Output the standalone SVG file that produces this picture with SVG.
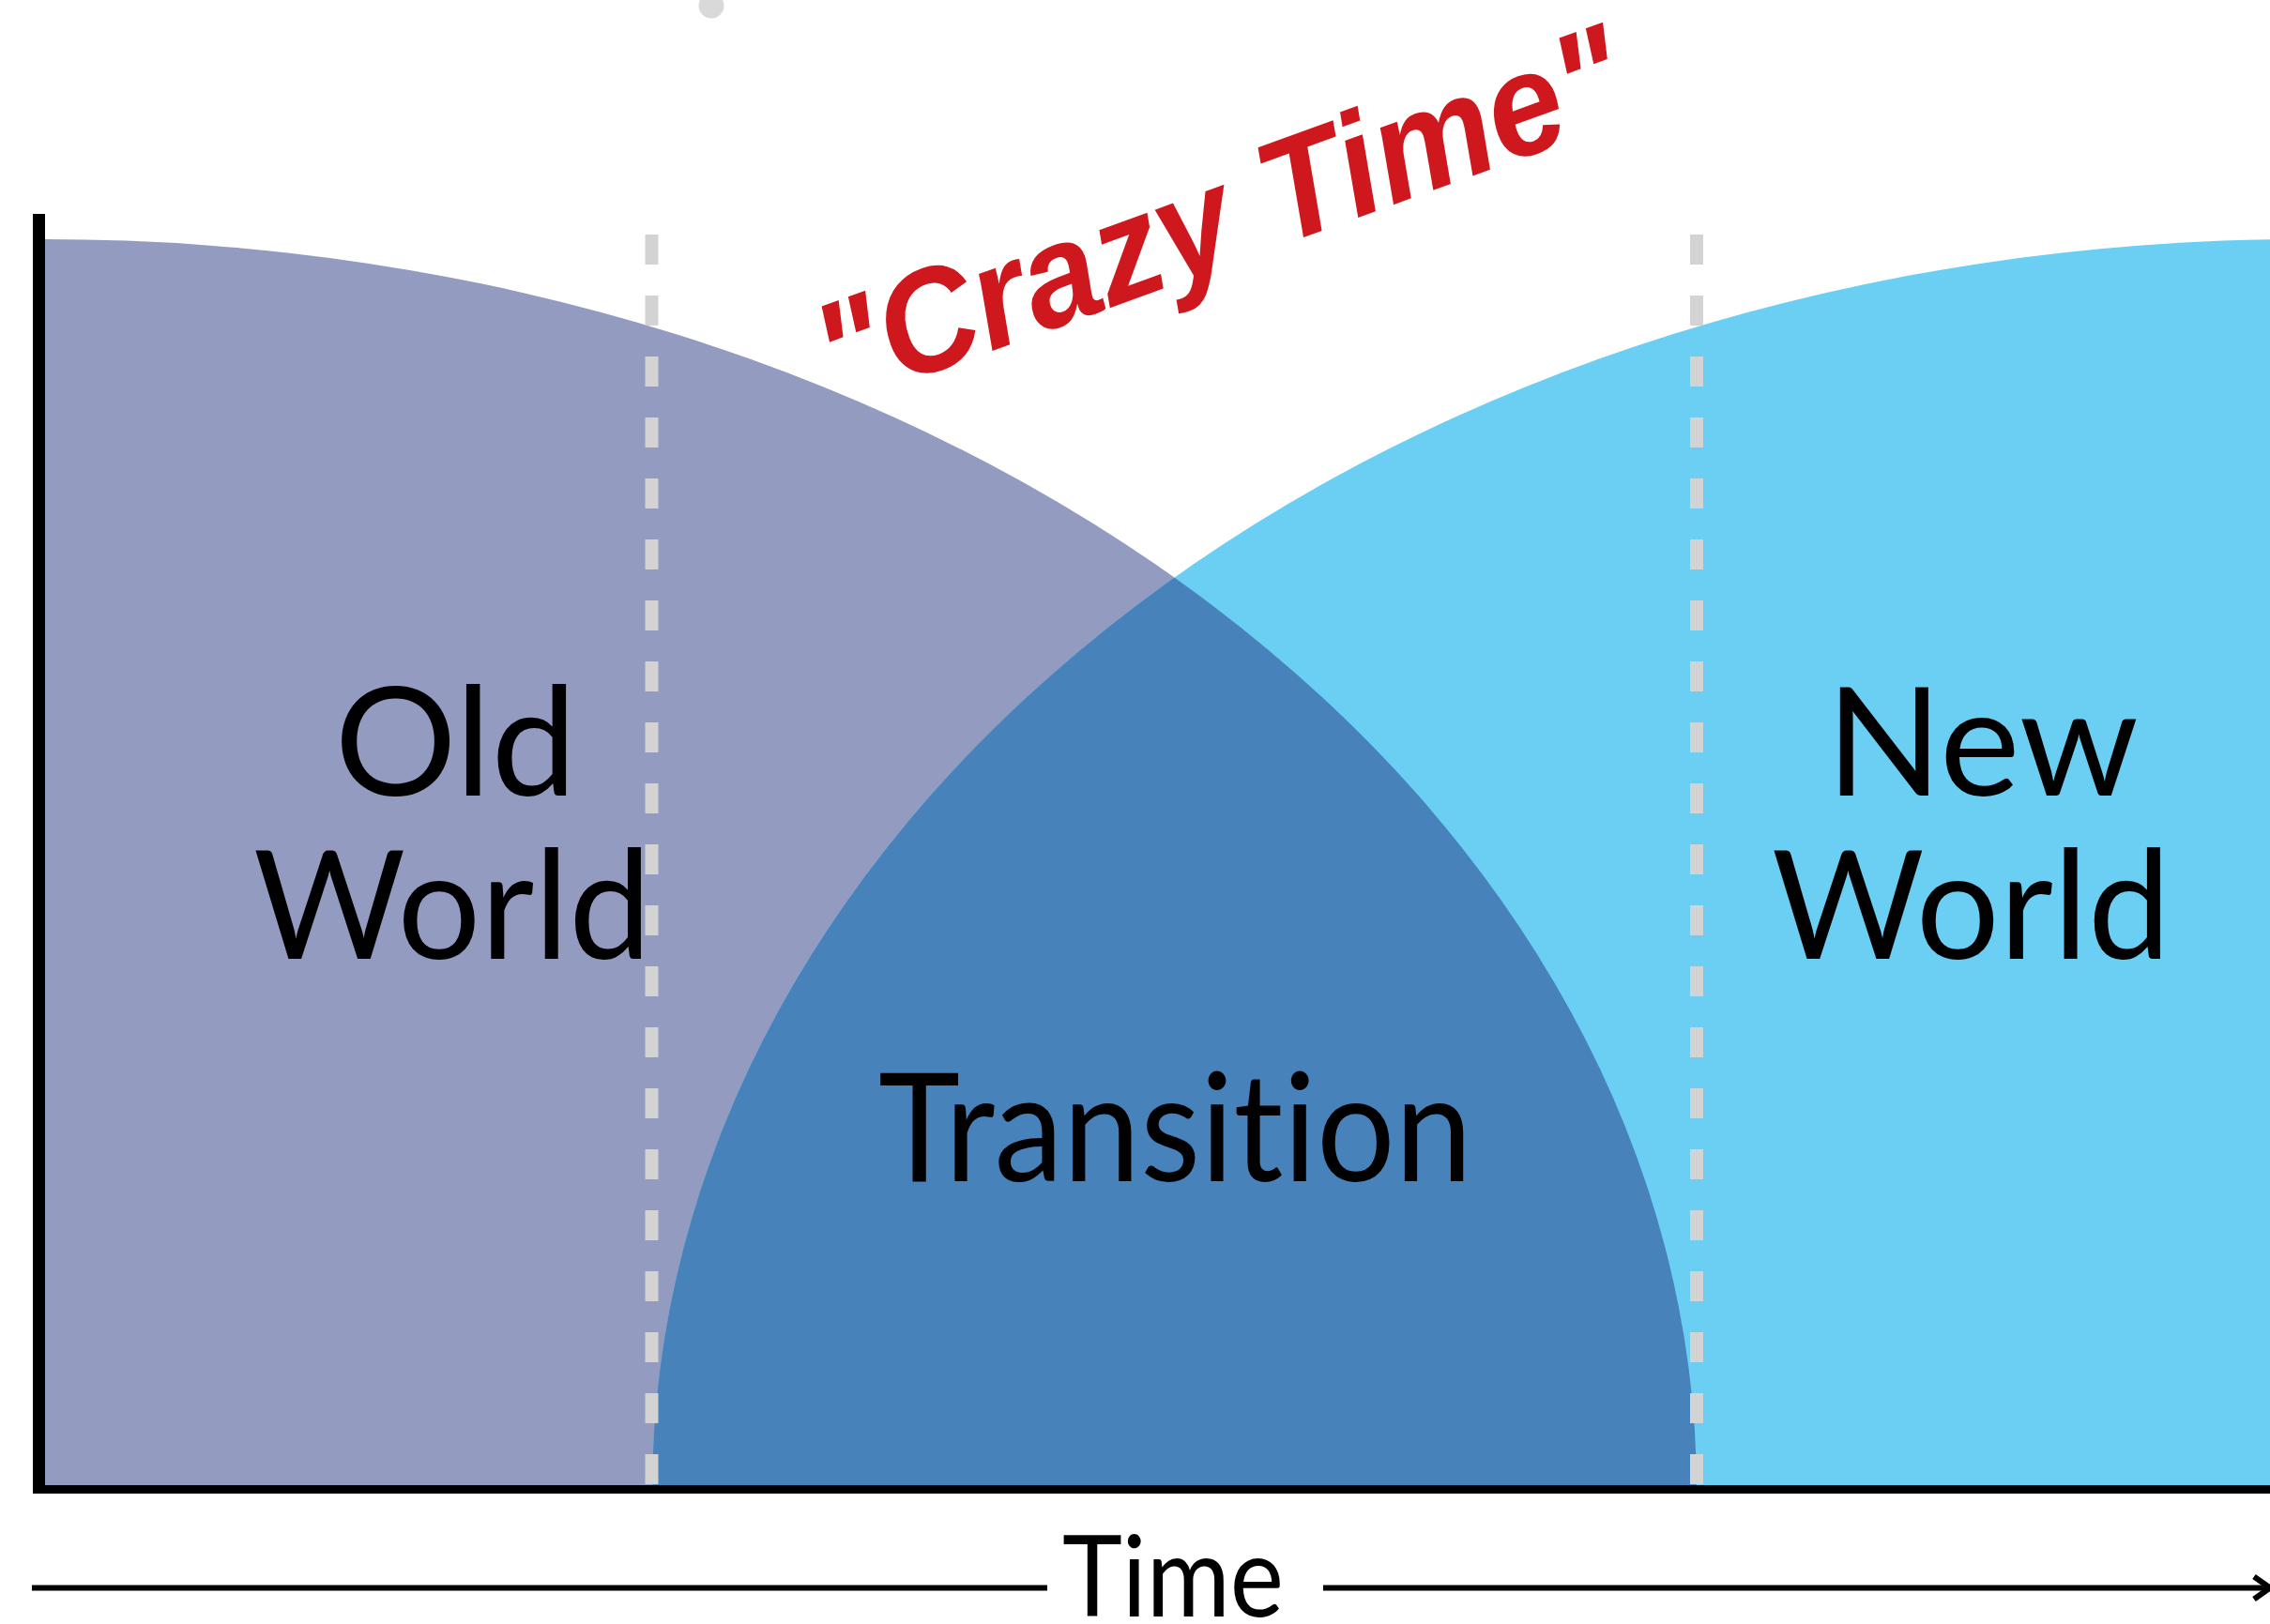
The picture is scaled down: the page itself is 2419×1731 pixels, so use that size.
<svg xmlns="http://www.w3.org/2000/svg" width="2419" height="1731" viewBox="0 0 2419 1731">
  <style>
    text { font-variant-ligatures: none; font-feature-settings: "liga" 0, "clig" 0, "dlig" 0; }
    .lbl { font-family: Lato, "Liberation Sans", sans-serif; font-weight: 400; fill: #000; text-anchor: middle; }
    .crazy { font-family: "Liberation Sans", Arial, sans-serif; font-weight: 700; font-style: italic; fill: #cf181e; text-anchor: middle; }
    .dash { stroke: #d3d3d3; stroke-width: 14; stroke-dasharray: 32 33; fill: none; }
    .axis { fill: #000; }
    .arrow { stroke: #000; stroke-width: 6; fill: none; }
  </style>
  <defs>
    <path id="oldShape" d="M48,1589 V255 A1760,1334 0 0 1 1808,1589 Z"/>
    <path id="newShape" d="M695,1589 A1760,1334 0 0 1 2455,255 V1589 Z"/>
    <clipPath id="newClip"><use href="#newShape"/></clipPath>
    <marker id="arrowHead" markerUnits="userSpaceOnUse" markerWidth="40" markerHeight="40" viewBox="-30 -20 40 40" refX="0" refY="0" orient="auto" overflow="visible">
      <path d="M-17,-12 L0,0 L-17,12" fill="none" stroke="#000" stroke-width="6"/>
    </marker>
  </defs>

  <rect x="0" y="0" width="2419" height="1731" fill="#ffffff"/>

  <circle id="dot" cx="758" cy="6" r="13.5" fill="#d9d9d9"/>

  <g id="old-world">
    <use href="#oldShape" fill="#939bc1"/>
  </g>
  <g id="new-world">
    <use href="#newShape" fill="#6bcff3"/>
  </g>
  <g id="transition">
    <use href="#oldShape" fill="#4782ba" clip-path="url(#newClip)"/>
  </g>

  <g id="dividers">
    <line class="dash" x1="694.5" y1="250" x2="694.5" y2="1583"/>
    <line class="dash" x1="1808" y1="250" x2="1808" y2="1583"/>
  </g>

  <g id="labels">
    <text class="lbl" x="485.5" y="848" font-size="162" textLength="258" lengthAdjust="spacingAndGlyphs">Old</text>
    <text class="lbl" x="482" y="1022" font-size="162" textLength="424" lengthAdjust="spacingAndGlyphs">World</text>
    <text class="lbl" x="2112.5" y="848" font-size="162" textLength="333" lengthAdjust="spacingAndGlyphs">New</text>
    <text class="lbl" x="2100.5" y="1022" font-size="162" textLength="425" lengthAdjust="spacingAndGlyphs">World</text>
    <text class="lbl" x="1252.5" y="1259" font-size="162" textLength="633" lengthAdjust="spacingAndGlyphs">Transition</text>
    <text class="lbl" x="1250" y="1723" font-size="121" textLength="236" lengthAdjust="spacingAndGlyphs">Time</text>
  </g>

  <g id="crazy-time">
    <text class="crazy" x="1318" y="279" font-size="155" textLength="905" lengthAdjust="spacingAndGlyphs" transform="rotate(-20 1318 279)">"Crazy Time"</text>
  </g>

  <g id="axes">
    <rect class="axis" x="35" y="228" width="13" height="1364"/>
    <rect class="axis" x="35" y="1583" width="2384" height="9"/>
  </g>

  <g id="connectors">
    <line class="arrow" x1="34" y1="1692.5" x2="1116" y2="1692.5"/>
    <line class="arrow" x1="1410" y1="1692.5" x2="2419" y2="1692.5" marker-end="url(#arrowHead)"/>
  </g>
</svg>
